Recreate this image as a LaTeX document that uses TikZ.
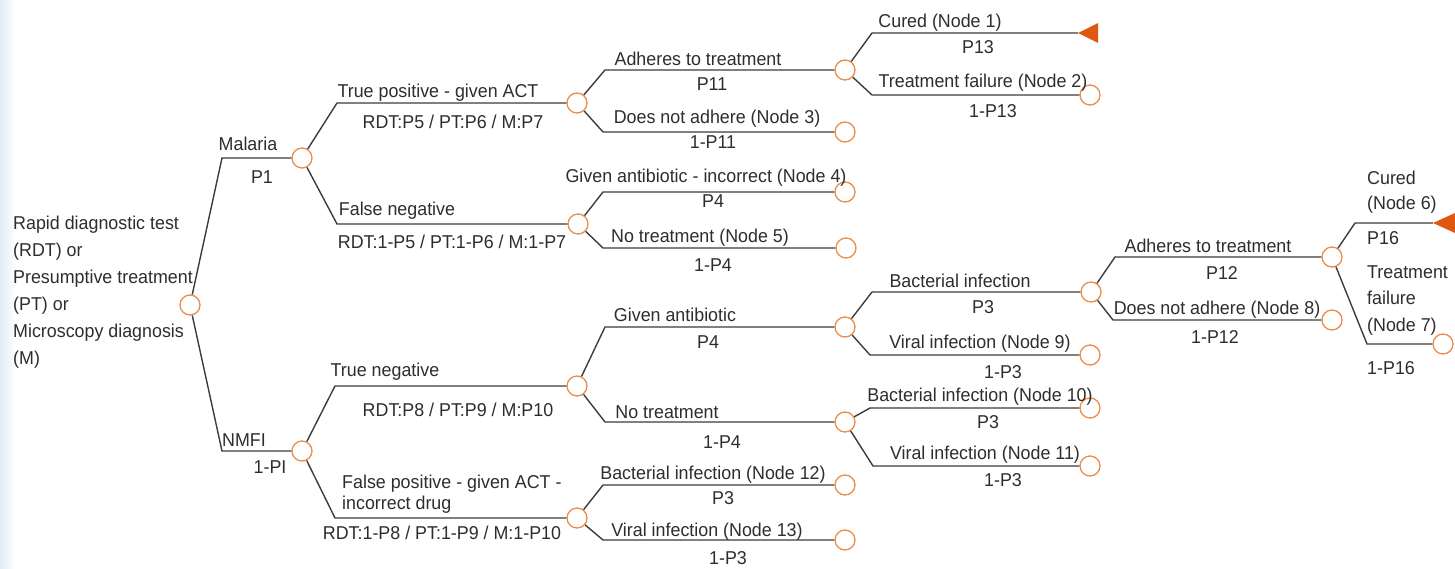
\documentclass[tikz,border=0pt]{standalone}
\usepackage{fontspec}
\setmainfont{Liberation Sans}[FakeStretch=0.96]
\definecolor{linegray}{RGB}{60,60,60}
\definecolor{txtgray}{RGB}{45,45,45}
\definecolor{nodeorange}{RGB}{236,140,72}
\definecolor{tiporange}{RGB}{222,88,18}
\definecolor{bgblue}{RGB}{226,236,244}

\begin{document}
\begin{tikzpicture}[x=1pt, y=-1pt,
  chance/.style={draw=nodeorange, fill=white, circle, line width=1.3pt, minimum size=20pt, inner sep=0pt},
  branch/.style={draw=linegray, line width=1.4pt},
  lab/.style={text=txtgray, font=\fontsize{18.6}{27}\selectfont, inner sep=0pt, anchor=base},
  multi/.style={lab, align=left, anchor=north west}]
\useasboundingbox (0,0) rectangle (1455,569);
\fill[left color=bgblue, right color=white] (0,0) rectangle (16,569);

\node[chance] (r0) at (190,305) {};
\node[chance] (mal) at (302,158) {};
\node[chance] (nmfi) at (302,451) {};
\node[chance] (tp) at (577,103) {};
\node[chance] (fn) at (578,224) {};
\node[chance] (tn) at (577,386) {};
\node[chance] (fp) at (577,518) {};
\node[chance] (adh1) at (845,70) {};
\node[chance] (ga) at (845,327) {};
\node[chance] (nt) at (845,422) {};
\node[chance] (bact) at (1091,292) {};
\node[chance] (adh2) at (1332,257) {};

\node[chance] (n2) at (1090,95) {};
\node[chance] (n3) at (845,132) {};
\node[chance] (n4) at (845,192) {};
\node[chance] (n5) at (846,248) {};
\node[chance] (n7) at (1443,344) {};
\node[chance] (n8) at (1332,320) {};
\node[chance] (n9) at (1090,355) {};
\node[chance] (n10) at (1090,408) {};
\node[chance] (n11) at (1090,466) {};
\node[chance] (n12) at (845,485) {};
\node[chance] (n13) at (845,540) {};
\coordinate (n1) at (1078,33);
\coordinate (n6) at (1433,223);

\coordinate (b-mal) at (222,158);
\coordinate (b-nmfi) at (222,451);
\coordinate (b-tp) at (337,103);
\coordinate (b-fn) at (337,224);
\coordinate (b-tn) at (335,386);
\coordinate (b-fp) at (335,518);
\coordinate (b-adh1) at (605,70);
\coordinate (b-n3) at (603,132);
\coordinate (b-n1) at (872,33);
\coordinate (b-n2) at (872,95);
\coordinate (b-n4) at (603,192);
\coordinate (b-n5) at (603,248);
\coordinate (b-ga) at (605,327);
\coordinate (b-nt) at (605,422);
\coordinate (b-n12) at (603,485);
\coordinate (b-n13) at (603,540);
\coordinate (b-bact) at (872,292);
\coordinate (b-n9) at (870,355);
\coordinate (b-n10) at (870,408);
\coordinate (b-n11) at (873,466);
\coordinate (b-adh2) at (1115,257);
\coordinate (b-n8) at (1113,320);
\coordinate (b-n6) at (1355,223);
\coordinate (b-n7) at (1367,344);

\draw[branch] (r0) -- (b-mal) -- (mal);
\draw[branch] (r0) -- (b-nmfi) -- (nmfi);
\draw[branch] (mal) -- (b-tp) -- (tp);
\draw[branch] (mal) -- (b-fn) -- (fn);
\draw[branch] (nmfi) -- (b-tn) -- (tn);
\draw[branch] (nmfi) -- (b-fp) -- (fp);
\draw[branch] (tp) -- (b-adh1) -- (adh1);
\draw[branch] (tp) -- (b-n3) -- (n3);
\draw[branch] (adh1) -- (b-n1) -- (n1);
\draw[branch] (adh1) -- (b-n2) -- (n2);
\draw[branch] (fn) -- (b-n4) -- (n4);
\draw[branch] (fn) -- (b-n5) -- (n5);
\draw[branch] (tn) -- (b-ga) -- (ga);
\draw[branch] (tn) -- (b-nt) -- (nt);
\draw[branch] (fp) -- (b-n12) -- (n12);
\draw[branch] (fp) -- (b-n13) -- (n13);
\draw[branch] (ga) -- (b-bact) -- (bact);
\draw[branch] (ga) -- (b-n9) -- (n9);
\draw[branch] (nt) -- (b-n10) -- (n10);
\draw[branch] (nt) -- (b-n11) -- (n11);
\draw[branch] (bact) -- (b-adh2) -- (adh2);
\draw[branch] (bact) -- (b-n8) -- (n8);
\draw[branch] (adh2) -- (b-n6) -- (n6);
\draw[branch] (adh2) -- (b-n7) -- (n7);
\fill[tiporange] (n1) -- ++(20,-10) -- ++(0,20) -- cycle;
\fill[tiporange] (n6) -- ++(22,-10) -- ++(0,20) -- cycle;

\node[multi] (root-txt) at (13,215.5) {Rapid diagnostic test\\(RDT) or\\Presumptive treatment\\(PT) or\\Microscopy diagnosis\\(M)};
\node[lab] (l-mal) at (248,151) {Malaria};
\node[lab] (p-mal) at (262,184) {P1};
\node[lab] (l-nmfi) at (244,446) {NMFI};
\node[lab] (p-nmfi) at (270,473) {1-PI};
\node[lab] (l-tp) at (438,98) {True positive - given ACT};
\node[lab] (p-tp) at (453,129) {RDT:P5 / PT:P6 / M:P7};
\node[lab] (l-fn) at (397,216) {False negative};
\node[lab] (p-fn) at (452,249) {RDT:1-P5 / PT:1-P6 / M:1-P7};
\node[lab] (l-tn) at (385,376) {True negative};
\node[lab] (p-tn) at (458,416) {RDT:P8 / PT:P9 / M:P10};
\node[multi, font=\fontsize{18.6}{21}\selectfont] (l-fp) at (342,475) {False positive - given ACT -\\incorrect drug};
\node[lab] (p-fp) at (442,539) {RDT:1-P8 / PT:1-P9 / M:1-P10};
\node[lab] (l-adh1) at (698,66) {Adheres to treatment};
\node[lab] (p-adh1) at (712,91) {P11};
\node[lab] (l-n3) at (717,124) {Does not adhere (Node 3)};
\node[lab] (p-n3) at (713,149) {1-P11};
\node[lab] (l-n1) at (940,28) {Cured (Node 1)};
\node[lab] (p-n1) at (978,54) {P13};
\node[lab] (l-n2) at (983,88) {Treatment failure (Node 2)};
\node[lab] (p-n2) at (993,118) {1-P13};
\node[lab] (l-n4) at (706,183) {Given antibiotic - incorrect (Node 4)};
\node[lab] (p-n4) at (713,208) {P4};
\node[lab] (l-n5) at (700,243) {No treatment (Node 5)};
\node[lab] (p-n5) at (713,272) {1-P4};
\node[lab] (l-ga) at (675,321) {Given antibiotic};
\node[lab] (p-ga) at (708,348) {P4};
\node[lab] (l-nt) at (667,418) {No treatment};
\node[lab] (p-nt) at (722,448) {1-P4};
\node[lab] (l-n12) at (713,479) {Bacterial infection (Node 12)};
\node[lab] (p-n12) at (723,504) {P3};
\node[lab] (l-n13) at (707,536) {Viral infection (Node 13)};
\node[lab] (p-n13) at (728,564) {1-P3};
\node[lab] (l-bact) at (960,287) {Bacterial infection};
\node[lab] (p-bact) at (983,313) {P3};
\node[lab] (l-n9) at (980,348) {Viral infection (Node 9)};
\node[lab] (p-n9) at (1003,378) {1-P3};
\node[lab] (l-n10) at (980,401) {Bacterial infection (Node 10)};
\node[lab] (p-n10) at (988,428) {P3};
\node[lab] (l-n11) at (985,459) {Viral infection (Node 11)};
\node[lab] (p-n11) at (1003,486) {1-P3};
\node[lab] (l-adh2) at (1208,253) {Adheres to treatment};
\node[lab] (p-adh2) at (1222,279) {P12};
\node[lab] (l-n8) at (1217,314) {Does not adhere (Node 8)};
\node[lab] (p-n8) at (1215,343) {1-P12};
\node[multi, font=\fontsize{18.6}{25}\selectfont] (l-n6) at (1367,170.5) {Cured\\(Node 6)};
\node[lab, anchor=base west] (p-n6) at (1367,244) {P16};
\node[multi, font=\fontsize{18.6}{26.5}\selectfont] (l-n7) at (1367,265.5) {Treatment\\failure\\(Node 7)};
\node[lab, anchor=base west] (p-n7) at (1367,374) {1-P16};
\end{tikzpicture}
\end{document}
